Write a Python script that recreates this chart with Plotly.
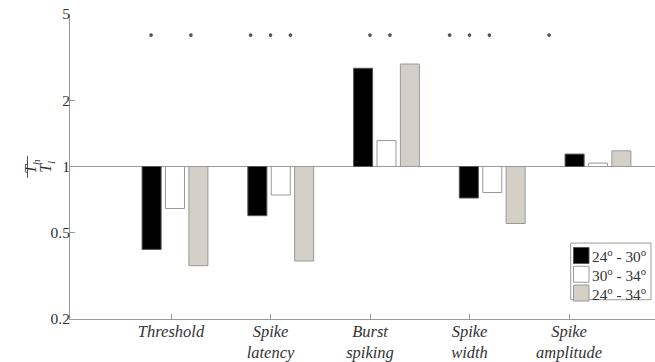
import plotly.graph_objects as go
import math

categories = ["Threshold", "Spike<br>latency", "Burst<br>spiking", "Spike<br>width", "Spike<br>amplitude"]
series_names = ["24<sup>o</sup> - 30<sup>o</sup>", "30<sup>o</sup> - 34<sup>o</sup>", "24<sup>o</sup> - 34<sup>o</sup>"]
ratio_24_30 = [0.417, 0.595, 2.82, 0.717, 1.14]
ratio_30_34 = [0.642, 0.74, 1.315, 0.76, 1.036]
ratio_24_34 = [0.351, 0.369, 2.95, 0.548, 1.18]
sig_24_30 = [1, 1, 0, 1, 1]
sig_30_34 = [0, 1, 1, 1, 0]
sig_24_34 = [1, 1, 1, 1, 0]
sig_level = 4
y_ticks = [0.2, 0.5, 1, 2, 5]
y_ticktext = ["0.2", "0.5", "1", "2", "5"]

FONT = "Liberation Serif, Times New Roman, serif"
TXT = "#333333"
AXC = "#9a9a9a"
fills = ["#000000", "#ffffff", "#d4d0c8"]
outlines = ["#555555", "#999999", "#999999"]

# the page body margin is removed below, so figure pixels == page pixels
W, H = 655, 362
plot_left, plot_right, plot_top, plot_bottom = 70, 655, 14, 319.3
ml = plot_left
mr = W - plot_right
mt = plot_top
mb = H - plot_bottom
pw = plot_right - plot_left
ph = plot_bottom - plot_top

def px(xp):
    return (xp - plot_left) / pw

def py(yp):
    return (plot_bottom - yp) / ph

pos = [i + 1 for i in range(len(categories))]
fig = go.Figure()
for name, vals, fc, oc in zip(series_names, [ratio_24_30, ratio_30_34, ratio_24_34], fills, outlines):
    fig.add_trace(go.Bar(
        x=pos, y=[v - 1 for v in vals], base=[1] * len(vals), name=name,
        marker=dict(color=fc, line=dict(color=oc, width=1)),
        xaxis="x", yaxis="y"))

# significance markers on the tick axis
sx, sy = [], []
for off, sig in zip([-0.2, 0.0, 0.2], [sig_24_30, sig_30_34, sig_24_34]):
    for i, s in enumerate(sig):
        if s:
            sx.append(pos[i] + off)
            sy.append(sig_level)
fig.add_trace(go.Scatter(
    x=sx, y=sy, mode="markers", showlegend=False, xaxis="x2", yaxis="y",
    marker=dict(symbol="asterisk-open", size=3, color="#555", line=dict(color="#555", width=1.2))))

fig.add_shape(type="line", xref="paper", yref="y", x0=0, x1=1, y0=1, y1=1,
              line=dict(color=AXC, width=1), layer="below")

fig.update_layout(
    width=W, height=H,
    margin=dict(l=ml, r=mr, t=mt, b=mb, autoexpand=False),
    paper_bgcolor="white", plot_bgcolor="white",
    barmode="group", bargap=0.336, bargroupgap=0.187,
    font=dict(family=FONT, size=15, color=TXT),
    showlegend=False,
    xaxis=dict(range=[1 - (175 - plot_left) / 105.75, 1 + (plot_right - 175) / 105.75],
               showticklabels=False, ticks="",
               showgrid=False, zeroline=False, showline=False, automargin=False),
    xaxis2=dict(overlaying="x", anchor="y", side="bottom",
                range=[1 - (171 - plot_left) / 99.5, 1 + (plot_right - 171) / 99.5],
                tickvals=pos, ticktext=["<i>" + c + "</i>" for c in categories],
                ticks="inside", ticklen=5, tickcolor=AXC, showline=True, linecolor=AXC,
                showgrid=False, zeroline=False, automargin=False, ticklabelstandoff=-3,
                tickfont=dict(family=FONT, size=16.5, color=TXT)),
    yaxis=dict(type="log", range=[math.log10(0.2), math.log10(5)],
               tickvals=y_ticks, ticktext=y_ticktext,
               ticks="inside", ticklen=5, tickcolor=AXC, showline=True, linecolor=AXC,
               showgrid=False, zeroline=False, automargin=False, ticklabelstandoff=-4,
               tickfont=dict(family=FONT, size=15.5, color=TXT)),
)

# custom legend box
lx0, ly0, lx1, ly1 = 570.7, 243.3, 651, 300
fig.add_shape(type="rect", xref="paper", yref="paper", x0=px(lx0), x1=px(lx1), y0=py(ly1), y1=py(ly0),
              line=dict(color=AXC, width=1), fillcolor="white")
row_h = 18.8
for k, (name, fc, oc) in enumerate(zip(series_names, fills, outlines)):
    cy = ly0 + 3 + row_h * k + row_h / 2
    fig.add_shape(type="rect", xref="paper", yref="paper",
                  x0=px(573.5), x1=px(589), y0=py(cy + 8), y1=py(cy - 8),
                  line=dict(color=oc, width=1), fillcolor=fc)
    fig.add_annotation(xref="paper", yref="paper", x=px(589.5), y=py(cy), text=name,
                       xanchor="left", yanchor="middle", showarrow=False,
                       font=dict(family=FONT, size=15.3, color=TXT))

# y-axis label as a rotated fraction T_h / T_l
fig.add_annotation(xref="paper", yref="paper", x=px(20.5), y=py(167), text="<i>T<sub>h</sub></i>",
                   textangle=-90, showarrow=False, font=dict(family=FONT, size=16, color=TXT))
fig.add_annotation(xref="paper", yref="paper", x=px(35.5), y=py(167), text="<i>T<sub>l</sub></i>",
                   textangle=-90, showarrow=False, font=dict(family=FONT, size=16, color=TXT))
fig.add_shape(type="line", xref="paper", yref="paper", x0=px(27.5), x1=px(27.5),
              y0=py(178), y1=py(156), line=dict(color="#555", width=1))

fig.write_html("out.html", config={"displayModeBar": False},
               post_script="document.body.style.margin='0';")
